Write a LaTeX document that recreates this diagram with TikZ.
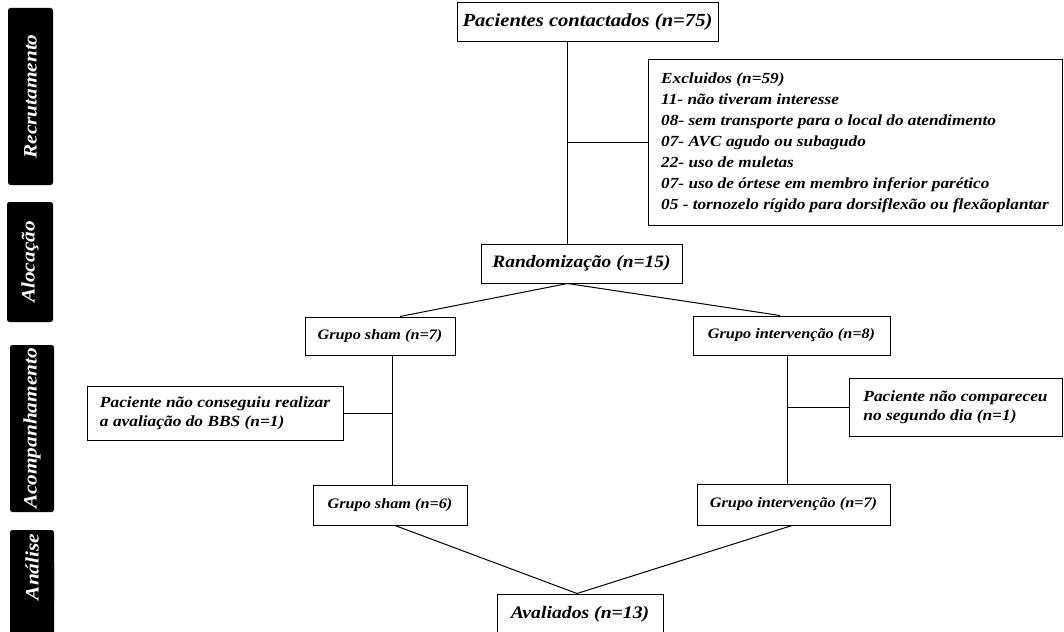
\documentclass[tikz,border=0pt]{standalone}
\usepackage{fontspec}
\setmainfont[FakeStretch=1.12]{Liberation Serif}
\begin{document}
\begin{tikzpicture}[x=1pt,y=-1pt,
  box/.style={draw, line width=1pt, fill=white, inner sep=0pt, align=center,
    font=\bfseries\itshape\fontsize{14.5}{18}\selectfont},
  note/.style={box, align=left, font=\bfseries\itshape\fontsize{15.5}{19}\selectfont},
  phase/.style={fill=black, rounded corners=2.5pt, text=white, rotate=90, inner sep=0pt,
    font=\bfseries\itshape\fontsize{19}{21}\selectfont},
  conn/.style={line width=1pt}]
\useasboundingbox (0,0) rectangle (1064,631);

% phase labels
\node[phase, minimum width=177pt, minimum height=45pt] (rec) at (30.5,96.5) {Recrutamento};
\node[phase, minimum width=120pt, minimum height=46pt] (aloc) at (30,262) {Alocação};
\node[phase, minimum width=167pt, minimum height=44pt] (acomp) at (32,428.5) {Acompanhamento};
\fill[rounded corners=2.5pt] (10,560) rectangle (54,640);
\node[phase, minimum width=74pt, minimum height=44pt] (anal) at (32,567) {Análise};

% boxes
\node[box, minimum width=261pt, minimum height=39pt, font=\bfseries\itshape\fontsize{18.4}{22}\selectfont] (top) at (587.5,22.5) {Pacientes contactados (n=75)};
\node[note, minimum width=414pt, minimum height=165pt,
  font=\bfseries\itshape\fontsize{15.4}{21}\selectfont] (excl) at (855,142.5) {Excluidos (n=59)\\
11- não tiveram interesse\\
08- sem transporte para o local do atendimento\\
07- AVC agudo ou subagudo\\
22- uso de muletas\\
07- uso de órtese em membro inferior parético\\
05 - tornozelo rígido para dorsiflexão ou flexãoplantar};
\node[box, minimum width=201pt, minimum height=39pt, font=\bfseries\itshape\fontsize{17.4}{21}\selectfont] (rand) at (581.5,263.5) {Randomização (n=15)};
\node[box, minimum width=150pt, minimum height=38pt] (sham7) at (380,336) {Grupo sham (n=7)};
\node[box, minimum width=197pt, minimum height=39pt] (int8) at (791.5,335.5) {Grupo intervenção (n=8)};
\node[note, minimum width=256pt, minimum height=54pt] (left) at (215,413) {Paciente não conseguiu realizar\\a avaliação do BBS (n=1)};
\node[note, minimum width=213pt, minimum height=58pt] (right) at (955.5,407) {Paciente não compareceu\\no segundo dia (n=1)};
\node[box, minimum width=154pt, minimum height=40pt] (sham6) at (390,505) {Grupo sham (n=6)};
\node[box, minimum width=193pt, minimum height=41pt] (int7) at (793.5,504.5) {Grupo intervenção (n=7)};
\node[box, minimum width=166pt, minimum height=40pt, font=\bfseries\itshape\fontsize{17.6}{21}\selectfont] (aval) at (580,614) {Avaliados (n=13)};

% branch points
\coordinate (ts) at ([xshift=-20.5pt]top.south);
\coordinate (sv) at ([xshift=12pt]sham7.south);
\coordinate (iv) at ([xshift=-4.5pt]int8.south);

% connectors
\draw[conn] (ts) -- ([xshift=-14.5pt]rand.north);
\draw[conn] (ts |- excl.west) -- (excl.west);
\draw[conn] ([xshift=-14pt]rand.south) -- ([xshift=20pt]sham7.north);
\draw[conn] ([xshift=-14pt]rand.south) -- ([xshift=-11.5pt]int8.north);
\draw[conn] (sv) -- (sv |- sham6.north);
\draw[conn] (left.east) -- (left.east -| sv);
\draw[conn] (iv) -- (iv |- int7.north);
\draw[conn] (right.west) -- (right.west -| iv);
\draw[conn] ([xshift=5pt]sham6.south) -- ([xshift=-3pt]aval.north);
\draw[conn] ([xshift=-1.5pt]int7.south) -- ([xshift=-3pt]aval.north);
\end{tikzpicture}
\end{document}
